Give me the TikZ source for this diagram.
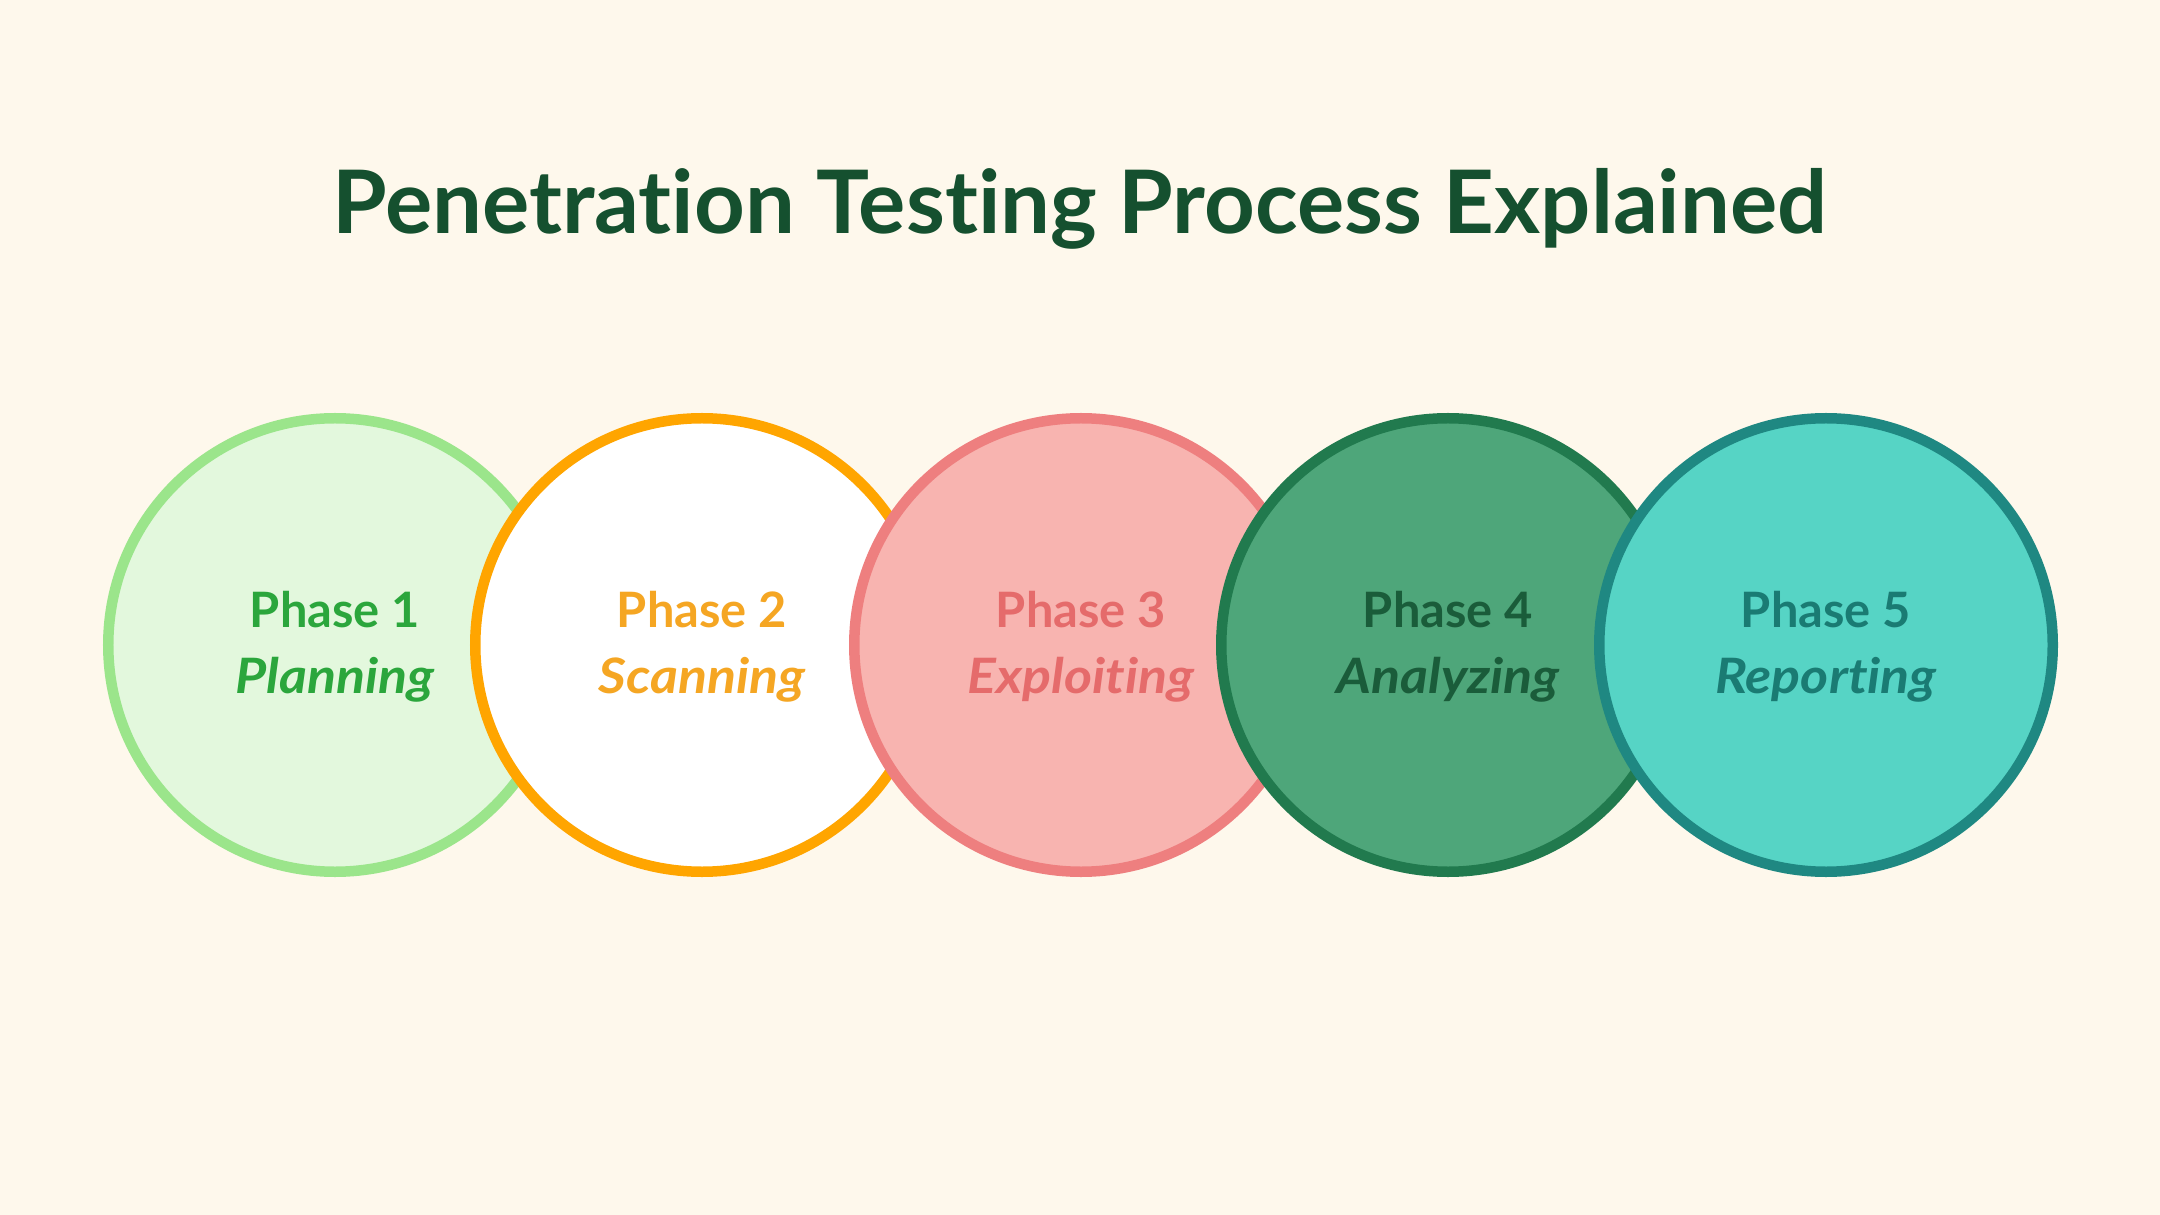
\documentclass[tikz,border=0pt]{standalone}
\usepackage{fontspec}
\setmainfont{Lato}[Ligatures=NoCommon]
\newfontfamily\titlefam{Lato}[Ligatures=NoCommon, FakeStretch=1.01]
\newfontfamily\namefam{Lato}[Ligatures=NoCommon, FakeStretch=1.1]
\definecolor{bg}{HTML}{FEF8EC}
\definecolor{ttl}{HTML}{15502F}
\definecolor{fa}{HTML}{E3F8DD}\definecolor{sa}{HTML}{9BE58B}\definecolor{ta}{HTML}{2BA63C}
\definecolor{fb}{HTML}{FFFFFF}\definecolor{sb}{HTML}{FFA500}\definecolor{tb}{HTML}{F5A623}
\definecolor{fc}{HTML}{F8B4B0}\definecolor{sc}{HTML}{EE7F7F}\definecolor{tc}{HTML}{E56B6B}
\definecolor{fd}{HTML}{4EA67A}\definecolor{sd}{HTML}{217A4E}\definecolor{td}{HTML}{1A5C3A}
\definecolor{fe}{HTML}{56D4C5}\definecolor{se}{HTML}{1F8882}\definecolor{te}{HTML}{1A7B73}
\tikzset{
  phasecircle/.style={circle, inner sep=0pt, minimum size=226.75bp, line width=5.25bp},
  phasehead/.style={anchor=base, inner sep=0pt, font=\fontsize{24.4bp}{28bp}\selectfont\bfseries},
  phasename/.style={anchor=base, inner sep=0pt, font=\namefam\fontsize{24.4bp}{28bp}\selectfont\bfseries\itshape},
  titletext/.style={anchor=base, inner sep=0pt, text=ttl, font=\titlefam\fontsize{43.8bp}{50bp}\selectfont\bfseries}
}
\begin{document}
\begin{tikzpicture}[x=0.5bp,y=-0.5bp]
\fill[bg] (0,0) rectangle (2160,1215);
\useasboundingbox (0,0) rectangle (2160,1215);
\node[titletext] (title) at (1080,234) {Penetration Testing Process Explained};
\foreach \i/\cx/\f/\s/\t/\nm in {1/335/fa/sa/ta/Planning, 2/702/fb/sb/tb/Scanning, 3/1081/fc/sc/tc/Exploiting, 4/1448/fd/sd/td/Analyzing, 5/1826/fe/se/te/Reporting}{
  \node[phasecircle, fill=\f, draw=\s] (c\i) at (\cx,645) {};
  \node[phasehead, text=\t] (h\i) at (\cx,627) {Phase \i};
  \node[phasename, text=\t] (n\i) at (\cx,693) {\nm};
}
\end{tikzpicture}
\end{document}
